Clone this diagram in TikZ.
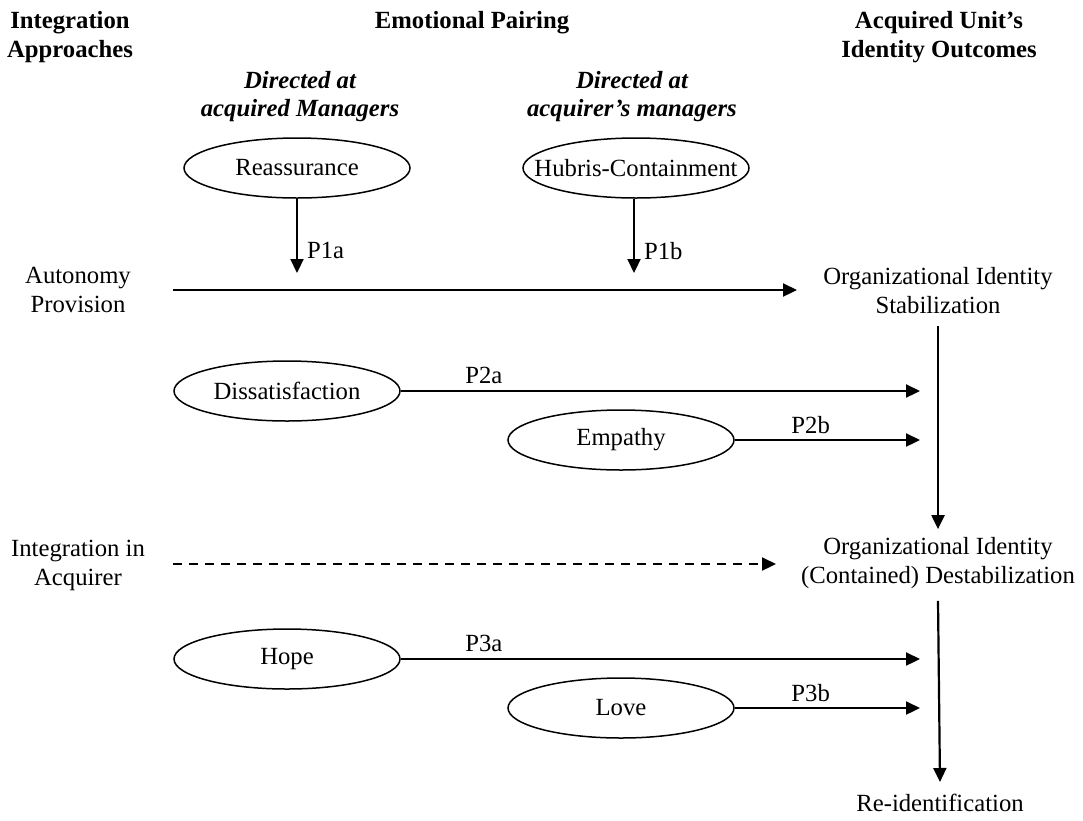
\documentclass[tikz,border=0pt]{standalone}
\usepackage{fontspec}
\setmainfont{Liberation Serif}
\usetikzlibrary{arrows.meta,shapes.geometric,calc}
\newcommand\ztext[1]{\makebox[0pt]{#1}}
\begin{document}
\begin{tikzpicture}[x=1pt,y=-1pt,
  every node/.style={font=\fontsize{24.7}{29}\selectfont, inner sep=0pt},
  txt/.style={align=center},
  hdr/.style={align=center, font=\fontsize{24.7}{29}\selectfont\bfseries},
  sub/.style={align=center, font=\fontsize{24.7}{28}\selectfont\bfseries\itshape},
  emo/.style={draw, ellipse, line width=1.5pt, minimum width=226pt, minimum height=60pt},
  arr/.style={line width=2.2pt, -{Triangle[length=14pt,width=13pt]}},
  lbl/.style={anchor=west}
]
\useasboundingbox (0,0) rectangle (1083,820);
% headers
\node[hdr] (h1) at (70,37) {Integration\\Approaches};
\node[hdr] (h2) at (472,23) {Emotional Pairing};
\node[hdr] (h3) at (939,37) {Acquired Unit’s\\Identity Outcomes};
\node[sub] (s1) at (300,97) {Directed at\\acquired Managers};
\node[sub] (s2) at (632,97) {Directed at\\acquirer’s managers};
% left labels
\node[txt] (auto) at (78,290) {Autonomy\\Provision};
\node[txt] (integ) at (78,565) {Integration in\\Acquirer};
% right labels
\node[txt] (stab) at (938,291) {Organizational Identity\\Stabilization};
\node[txt] (destab) at (938,563) {Organizational Identity\\(Contained) Destabilization};
\node[txt] (reid) at (940,803) {Re-identification};
% ellipses
\node[emo] (reas) at (297,168) {\ztext{Reassurance}};
\node[emo] (hub) at (636,168) {\ztext{Hubris-Containment}};
\node[emo] (dis) at (287,391) {\ztext{Dissatisfaction}};
\node[emo] (emp) at (621,440) {\ztext{Empathy}};
\node[emo] (hope) at (287,659) {\ztext{Hope}};
\node[emo] (love) at (621,708) {\ztext{Love}};
% main lines
\coordinate (mainA) at (173,290);
\coordinate (mainB) at (797,290);
\coordinate (dashA) at (173,564);
\coordinate (dashB) at (776,564);
\draw[arr] (mainA) -- (mainB);
\draw[arr, dash pattern=on 9pt off 7pt] (dashA) -- (dashB);
% moderators
\coordinate (t1a) at (297,273);
\coordinate (t1b) at (634,273);
\draw[arr] (reas.south) -- (t1a) node[lbl, pos=0.7, xshift=9pt] {P1a};
\draw[arr] (hub.south -| t1b) -- (t1b) node[lbl, pos=0.7, xshift=9pt] {P1b};
\coordinate (t2a) at (920,391);
\coordinate (t2b) at (920,440);
\coordinate (t3a) at (920,659);
\coordinate (t3b) at (920,708);
\draw[arr] (dis.east) -- (t2a) node[pos=0.16, anchor=south, yshift=6pt] {P2a};
\draw[arr] (emp.east) -- (t2b) node[pos=0.41, anchor=south, yshift=5pt] {P2b};
\draw[arr] (hope.east) -- (t3a) node[pos=0.16, anchor=south, yshift=6pt] {P3a};
\draw[arr] (love.east) -- (t3b) node[pos=0.41, anchor=south, yshift=5pt] {P3b};
% vertical
\draw[arr] ($(stab.south)+(0,12)$) -- ($(destab.north)+(0,-8)$);
\draw[arr] ($(destab.south)+(0,12)$) -- ($(reid.north)+(0,-12)$);
\end{tikzpicture}
\end{document}
